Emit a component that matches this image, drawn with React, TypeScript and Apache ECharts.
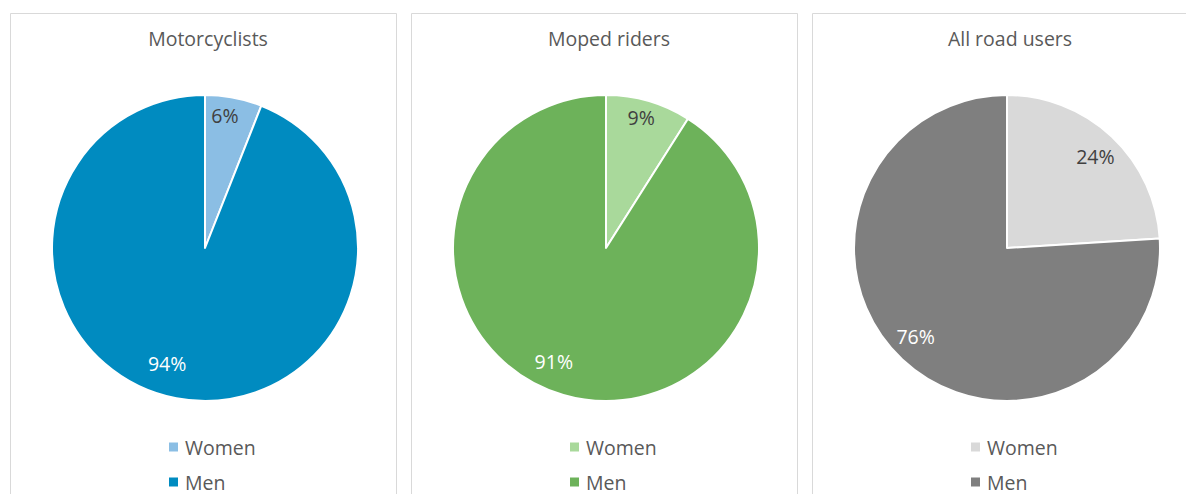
import React, { useEffect, useRef } from "react";
import * as echarts from "echarts";

const titles = ["Motorcyclists", "Moped riders", "All road users"];
const categories = ["Women", "Men"];
const womenShare = [6, 9, 24];
const menShare = [94, 91, 76];
const womenColors = ["#8BBEE4", "#A9D99B", "#D9D9D9"];
const menColors = ["#008BC0", "#6DB25A", "#7F7F7F"];
const labelColorsWomen = ["#404040", "#404040", "#404040"];
const labelColorsMen = ["#FFFFFF", "#FFFFFF", "#FFFFFF"];

// label nudges (Excel "best fit" placement) relative to ECharts' inside position
const labelNudges = [
  [[5, -54], [-23, 37]],
  [[13, -54], [-30, 37]],
  [[34, -34], [-37, 31]],
];

const PANEL_W = 386;
const PANEL_GAP = 15;
const PANEL_X0 = 10;
const PANEL_Y0 = 13;

export default function App() {
  const ref = useRef<HTMLDivElement>(null);
  useEffect(() => {
    if (!ref.current) return;
    const chart = echarts.init(ref.current, null, { renderer: "svg" });
    const font = "'Open Sans', 'Noto Sans', sans-serif";
    const fs = 19.5;
    const panels = titles.map((_, i) => PANEL_X0 + i * (PANEL_W + PANEL_GAP));
    const option: any = {
      animation: false,
      backgroundColor: "#ffffff",
      textStyle: { fontFamily: font },
      graphic: panels.map((x) => ({
        type: "rect",
        shape: { x: x + 0.5, y: PANEL_Y0 + 0.5, width: PANEL_W, height: 520 },
        style: { fill: "none", stroke: "#D9D9D9", lineWidth: 1 },
        silent: true,
      })),
      title: titles.map((t, i) => ({
        text: t,
        left: panels[i] + PANEL_W / 2,
        top: 23,
        textAlign: "center",
        textStyle: { fontFamily: font, fontSize: fs, fontWeight: "normal", color: "#595959" },
      })),
      legend: titles.map((_, i) => ({
        orient: "vertical",
        left: panels[i] + 157,
        top: 437,
        height: 120,
        padding: 0,
        itemWidth: 11,
        itemHeight: 11,
        itemGap: 15,
        icon: "rect",
        selectedMode: false,
        textStyle: { fontFamily: font, fontSize: fs, color: "#595959", padding: [0, 0, 0, 1] },
        data: [
          { name: categories[0], itemStyle: { color: womenColors[i] } },
          { name: categories[1], itemStyle: { color: menColors[i] } },
        ],
      })),
      series: titles.map((t, i) => ({
        type: "pie",
        name: t,
        center: [panels[i] + 195, 248],
        radius: [0, 153],
        startAngle: 90,
        clockwise: true,
        avoidLabelOverlap: false,
        itemStyle: { borderColor: "#ffffff", borderWidth: 2 },
        label: {
          show: true,
          position: "inside",
          fontFamily: font,
          fontSize: fs,
          formatter: "{c}%",
        },
        labelLine: { show: false },
        emphasis: { disabled: true },
        labelLayout: (p: any) => ({ dx: labelNudges[i][p.dataIndex][0], dy: labelNudges[i][p.dataIndex][1] }),
        data: [
          { name: categories[0], value: womenShare[i], itemStyle: { color: womenColors[i] }, label: { color: labelColorsWomen[i] } },
          { name: categories[1], value: menShare[i], itemStyle: { color: menColors[i] }, label: { color: labelColorsMen[i] } },
        ],
      })),
    };
    chart.setOption(option);
    return () => chart.dispose();
  }, []);
  return (
    <div
      ref={ref}
      style={{ position: "fixed", left: 0, top: 0, width: 1186, height: 494, background: "#fff" }}
    />
  );
}
